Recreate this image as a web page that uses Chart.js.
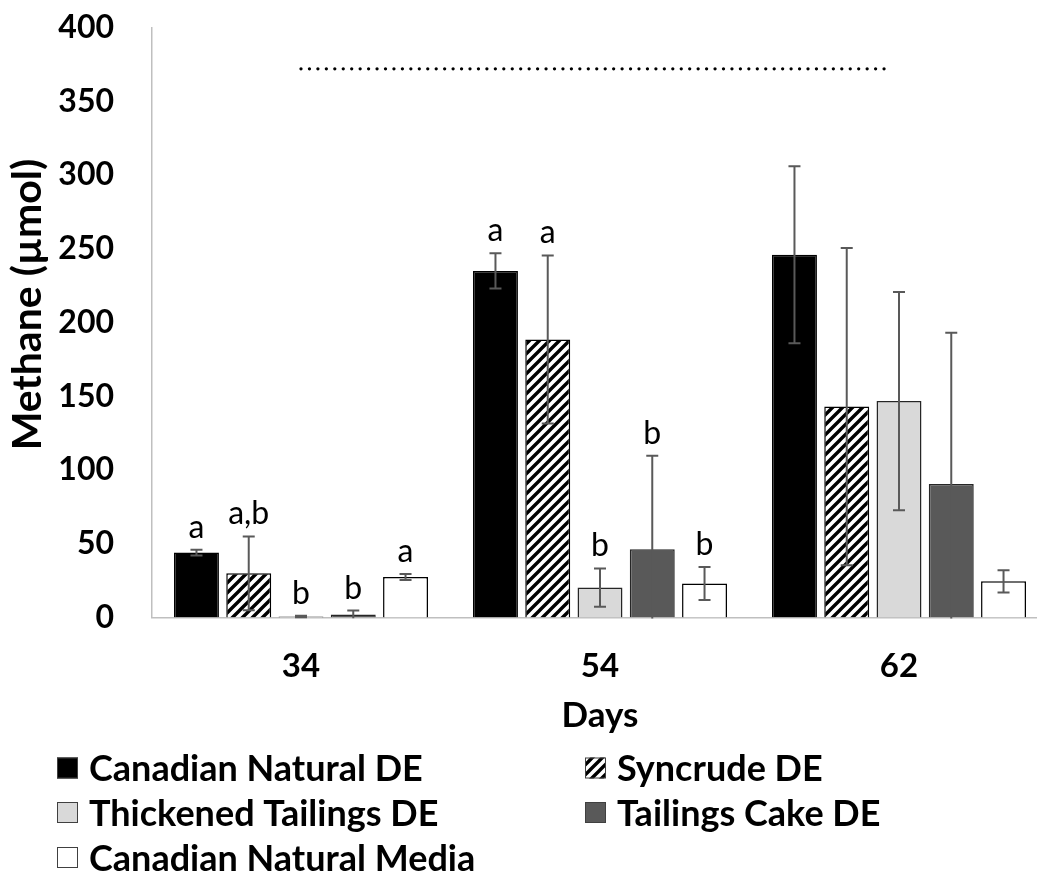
<!DOCTYPE html>
<html>
<head>
<meta charset="utf-8">
<title>Methane production by day</title>
<script src="https://cdn.jsdelivr.net/npm/chart.js@4.4.1/dist/chart.umd.min.js"></script>
<style>
  html, body { margin: 0; padding: 0; background: #fff; overflow: hidden; }
  #wrap { width: 1037px; height: 873px; overflow: hidden; position: relative; }
  canvas { position: absolute; left: 0; top: 0; }
</style>
</head>
<body>
<div id="wrap"><canvas id="c" width="1060" height="873"></canvas></div>
<script>
// Sampling days (x categories)
const days = ['34', '54', '62'];

// Y axis range and tick step (µmol)
const yMin = 0;
const yMax = 400;
const yStep = 50;

// Axis titles
const xTitle = 'Days';
const yTitle = 'Methane (µmol)';

// Series names
const seriesNames = [
  'Canadian Natural DE',
  'Syncrude DE',
  'Thickened Tailings DE',
  'Tailings Cake DE',
  'Canadian Natural Media'
];

// Mean methane (µmol) per day, and error (±)
const canadianNaturalDE = [44, 235, 246];
const canadianNaturalDEErr = [2, 12, 60];
const syncrudeDE = [30, 188.5, 143];
const syncrudeDEErr = [25, 57, 107.5];
const thickenedTailingsDE = [0.6, 20.3, 146.7];
const thickenedTailingsDEErr = [0.6, 13, 74];
const tailingsCakeDE = [2, 46.3, 90.5];
const tailingsCakeDEErr = [2.7, 63.3, 102.5];
const canadianNaturalMedia = [27.5, 23, 24.5];
const canadianNaturalMediaErr = [2, 11.2, 7.5];

// Significance letters per bar
const canadianNaturalDELetters = ['a', 'a', ''];
const syncrudeDELetters = ['a,b', 'a', ''];
const thickenedTailingsDELetters = ['b', 'b', ''];
const tailingsCakeDELetters = ['b', 'b', ''];
const canadianNaturalMediaLetters = ['a', 'b', ''];

// Dotted reference line level (µmol) and its span in category units
const refLineValue = 372;
const refLineFrom = 0;
const refLineTo = 1.97;

const canvas = document.getElementById('c');
const ctx0 = canvas.getContext('2d');

// Diagonal "/" hatch used for the Syncrude series
function makeHatch() {
  const s = 10;
  const t = document.createElement('canvas');
  t.width = s; t.height = s;
  const g = t.getContext('2d');
  g.fillStyle = '#ffffff';
  g.fillRect(0, 0, s, s);
  g.strokeStyle = '#000000';
  g.lineWidth = 3.4;
  g.beginPath();
  g.moveTo(-s / 2, s / 2); g.lineTo(s / 2, -s / 2);
  g.moveTo(0, s); g.lineTo(s, 0);
  g.moveTo(s / 2, s * 1.5); g.lineTo(s * 1.5, s / 2);
  g.stroke();
  return ctx0.createPattern(t, 'repeat');
}
const hatch = makeHatch();

const fills = ['#000000', hatch, '#d9d9d9', '#595959', '#ffffff'];
const borders = ['#000000', '#000000', '#262626', '#262626', '#000000'];
const values = [canadianNaturalDE, syncrudeDE, thickenedTailingsDE, tailingsCakeDE, canadianNaturalMedia];
const errors = [canadianNaturalDEErr, syncrudeDEErr, thickenedTailingsDEErr, tailingsCakeDEErr, canadianNaturalMediaErr];
const letters = [canadianNaturalDELetters, syncrudeDELetters, thickenedTailingsDELetters, tailingsCakeDELetters, canadianNaturalMediaLetters];

const datasets = seriesNames.map((name, i) => ({
  label: name,
  data: values[i],
  errors: errors[i],
  letters: letters[i],
  backgroundColor: fills[i],
  borderColor: borders[i],
  borderWidth: 1.5,
  borderSkipped: 'start',
  categoryPercentage: 0.874,
  barPercentage: 0.86
}));

// Error bars, clipped to the plot area
const errorBarPlugin = {
  id: 'errorBars',
  afterDatasetsDraw(chart) {
    const { ctx, chartArea, scales: { y } } = chart;
    ctx.save();
    ctx.beginPath();
    ctx.rect(chartArea.left, chartArea.top, chartArea.right - chartArea.left, chartArea.bottom - chartArea.top + 1);
    ctx.clip();
    ctx.strokeStyle = '#595959';
    ctx.lineWidth = 2;
    chart.data.datasets.forEach((ds, i) => {
      const meta = chart.getDatasetMeta(i);
      meta.data.forEach((bar, j) => {
        const v = ds.data[j], e = ds.errors[j];
        const yTop = y.getPixelForValue(v + e);
        const yBot = y.getPixelForValue(v - e);
        const cap = 6;
        ctx.beginPath();
        ctx.moveTo(bar.x, yTop); ctx.lineTo(bar.x, yBot);
        ctx.moveTo(bar.x - cap, yTop); ctx.lineTo(bar.x + cap, yTop);
        if (v - e >= yMin) { ctx.moveTo(bar.x - cap, yBot); ctx.lineTo(bar.x + cap, yBot); }
        ctx.stroke();
      });
    });
    ctx.restore();
  }
};

// Significance letters above each error bar
const lettersPlugin = {
  id: 'sigLetters',
  afterDatasetsDraw(chart) {
    const { ctx, scales: { y } } = chart;
    ctx.save();
    ctx.fillStyle = '#000';
    ctx.font = '400 32px Lato';
    ctx.textAlign = 'center';
    ctx.textBaseline = 'alphabetic';
    chart.data.datasets.forEach((ds, i) => {
      const meta = chart.getDatasetMeta(i);
      meta.data.forEach((bar, j) => {
        const txt = ds.letters[j];
        if (!txt) return;
        const yTop = y.getPixelForValue(ds.data[j] + ds.errors[j]);
        ctx.fillText(txt, bar.x, yTop - 12);
      });
    });
    ctx.restore();
  }
};

// Dotted horizontal line across the days
const refLinePlugin = {
  id: 'refLine',
  afterDatasetsDraw(chart) {
    const { ctx, scales: { x, y } } = chart;
    const yy = y.getPixelForValue(refLineValue);
    ctx.save();
    ctx.strokeStyle = '#000';
    ctx.lineWidth = 3.3;
    ctx.lineCap = 'round';
    ctx.setLineDash([0, 8.45]);
    ctx.beginPath();
    ctx.moveTo(x.getPixelForValue(refLineFrom), yy);
    ctx.lineTo(x.getPixelForValue(refLineTo), yy);
    ctx.stroke();
    ctx.restore();
  }
};

// Vertical y-axis title, centred a little above the plot middle
const yTitlePlugin = {
  id: 'yTitle',
  afterDraw(chart) {
    const { ctx, chartArea } = chart;
    ctx.save();
    ctx.translate(28, (chartArea.top + chartArea.bottom) / 2 - 18);
    ctx.rotate(-Math.PI / 2);
    ctx.font = '700 41px Lato';
    ctx.fillStyle = '#000';
    ctx.textAlign = 'center';
    ctx.textBaseline = 'middle';
    ctx.fillText(yTitle, 0, 0);
    ctx.restore();
  }
};

// Two-column legend below the axis
const legendPlugin = {
  id: 'gridLegend',
  afterDraw(chart) {
    const { ctx } = chart;
    const colX = [57, 585];
    const rowY = [768, 812.5, 857.5];
    const sw = 21;
    ctx.save();
    ctx.font = '700 36px Lato';
    ctx.textBaseline = 'alphabetic';
    ctx.textAlign = 'left';
    chart.data.datasets.forEach((ds, i) => {
      const cx = colX[i % 2];
      const cy = rowY[Math.floor(i / 2)];
      ctx.fillStyle = ds.backgroundColor;
      ctx.fillRect(cx, cy - sw / 2, sw, sw);
      ctx.strokeStyle = '#404040';
      ctx.lineWidth = 1;
      ctx.strokeRect(cx + 0.5, cy - sw / 2 + 0.5, sw - 1, sw - 1);
      ctx.fillStyle = '#000';
      ctx.fillText(ds.label, cx + sw + 11, cy + 13);
    });
    ctx.restore();
  }
};

new Chart(canvas, {
  type: 'bar',
  data: { labels: days, datasets },
  plugins: [errorBarPlugin, lettersPlugin, refLinePlugin, yTitlePlugin, legendPlugin],
  options: {
    responsive: false,
    animation: false,
    devicePixelRatio: 1,
    layout: { padding: { left: 0, top: 27.5, right: 11.5, bottom: 130 } },
    plugins: { legend: { display: false }, tooltip: { enabled: false } },
    scales: {
      x: {
        grid: { display: false, drawTicks: false },
        border: { display: true, color: '#bfbfbf', width: 1.5 },
        ticks: { color: '#000', font: { family: 'Lato', weight: '700', size: 33 }, padding: 29 },
        title: { display: true, text: xTitle, color: '#000', font: { family: 'Lato', weight: '700', size: 35 }, padding: { top: 0, bottom: 6 } },
        afterFit(scale) { scale.height = 125.5; scale.paddingLeft = 0; scale.paddingRight = 0; }
      },
      y: {
        min: yMin, max: yMax,
        grid: { display: false, drawTicks: false },
        border: { display: true, color: '#bfbfbf', width: 1.5 },
        ticks: { stepSize: yStep, color: '#000', font: { family: 'Lato', weight: '700', size: 32 }, padding: 37.5 },
        title: { display: false },
        afterFit(scale) { scale.width = 151.5; scale.paddingTop = 0; scale.paddingBottom = 0; }
      }
    }
  }
});
</script>
</body>
</html>
